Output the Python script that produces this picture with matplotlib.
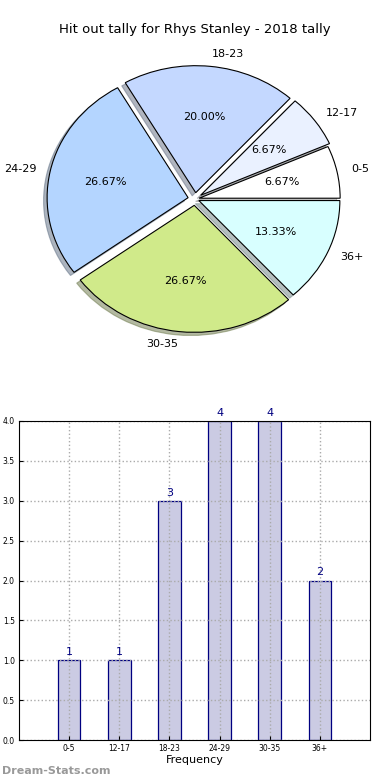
import matplotlib
matplotlib.use("Agg")
import matplotlib.pyplot as plt
import numpy as np

# Data
categories = ["0-5", "12-17", "18-23", "24-29", "30-35", "36+"]
counts = [1, 1, 3, 4, 4, 2]
pie_colors = ["#ffffff", "#eaf1ff", "#c4d8ff", "#b4d5ff", "#d0ea8a", "#d8ffff"]
explode = [0.03, 0.05, 0.05, 0.05, 0.05, 0.03]
title = "Hit out tally for Rhys Stanley - 2018 tally"

plt.rcParams.update({"font.family": "DejaVu Sans"})

W, H = 390, 780
fig = plt.figure(figsize=(W / 100, H / 100), dpi=100)

# Pie chart (drawn slightly squashed, as in the original)
sx, sy = 2.5 * 141, 2.5 * 127
cx, cy = 195, 780 - 199
ax1 = fig.add_axes([(cx - sx / 2) / W, (cy - sy / 2) / H, sx / W, sy / H])
wedges, texts, autotexts = ax1.pie(
    counts, labels=categories, colors=pie_colors, explode=explode,
    autopct="%.2f%%", startangle=0,
    shadow={"ox": -0.018, "oy": -0.018, "shade": 0.5},
    wedgeprops={"edgecolor": "black", "linewidth": 0.8},
    textprops={"fontsize": 8},
)
ax1.set_aspect("auto")
ax1.set_xlim(-1.25, 1.25)
ax1.set_ylim(-1.25, 1.25)
ax1.axis("off")
fig.text(195 / W, 1 - 30 / H, title, ha="center", va="center", fontsize=9.5)

# Bar chart
ax2 = fig.add_axes([19 / W, 40 / H, 351 / W, 319 / H])
x = np.arange(len(categories))
ax2.bar(x, counts, width=0.45, color="#cbcbe3", edgecolor="#000080", linewidth=0.9, zorder=2)
for xi, c in zip(x, counts):
    ax2.text(xi, c + 0.04, str(c), ha="center", va="bottom", fontsize=8, color="#000080")
ax2.set_xlim(-1, 6)
ax2.set_ylim(0, 4)
ax2.set_xticks(x)
ax2.set_xticklabels(categories, fontsize=5.5)
ax2.set_yticks(np.arange(0, 4.01, 0.5))
ax2.set_yticklabels([f"{v:.1f}" for v in np.arange(0, 4.01, 0.5)], fontsize=5.5)
ax2.tick_params(direction="in", length=3, pad=3)
ax2.grid(True, linestyle=":", color="#aaaaaa", linewidth=1)
ax2.set_axisbelow(False)
for sp in ax2.spines.values():
    sp.set_zorder(5)
ax2.set_xlabel("Frequency", fontsize=8, labelpad=1)

fig.text(2 / W, 1 - 771 / H, "Dream-Stats.com", ha="left", va="center",
         fontsize=8, color="#999999", fontweight="bold")

fig.savefig("out.png", dpi=100)
